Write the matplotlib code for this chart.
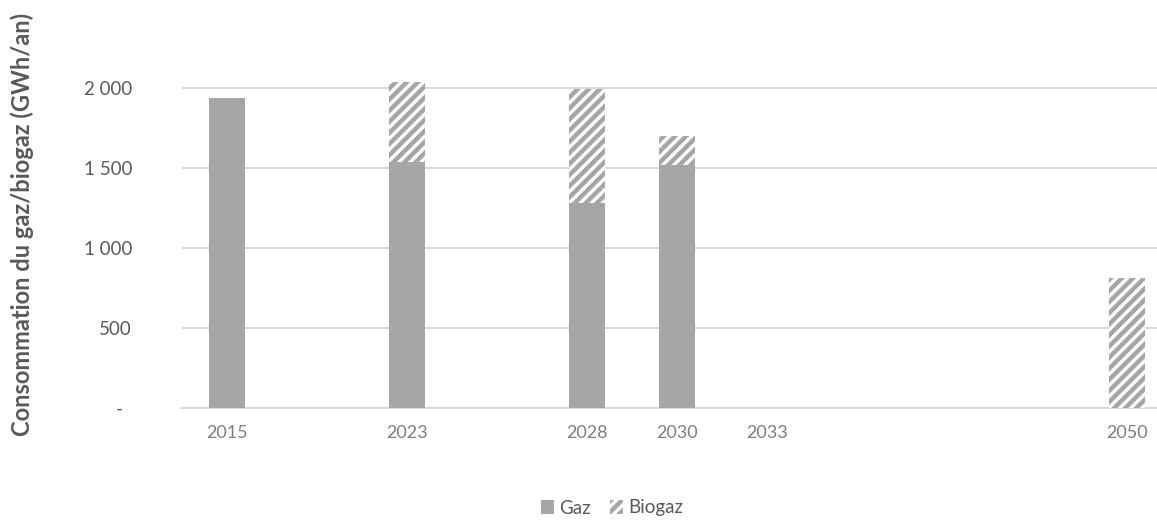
import matplotlib
matplotlib.use("Agg")
import matplotlib.pyplot as plt
from matplotlib.patches import Patch
import numpy as np

# Year slots on the category axis (blank slots keep the spacing)
years = ["2015", "", "2023", "", "2028", "2030", "2033", "", "", "", "2050"]
gaz = [1935, 0, 1540, 0, 1280, 1520, 0, 0, 0, 0, 0]
biogaz = [0, 0, 495, 0, 712, 177, 0, 0, 0, 0, 810]

y_ticks = [0, 500, 1000, 1500, 2000]
y_tick_labels = ["-  ", "500", "1 000", "1 500", "2 000"]

GRAY = "#a6a6a6"
TEXT = "#595959"
GRID = "#d9d9d9"

plt.rcParams["font.family"] = ["Lato", "DejaVu Sans"]
plt.rcParams["hatch.linewidth"] = 3.2

fig = plt.figure(figsize=(11.57, 5.20), dpi=100)
ax = fig.add_axes([182 / 1157, 112 / 520, 975 / 1157, 344 / 520])

x = np.arange(len(years))
width = 0.4
gaz_arr = np.array(gaz, dtype=float)
bio_arr = np.array(biogaz, dtype=float)

ax.bar(x, gaz_arr, width, color=GRAY, linewidth=0, zorder=3)
ax.bar(x, bio_arr, width, bottom=gaz_arr, facecolor="white",
       edgecolor=GRAY, hatch="///", linewidth=0, zorder=3)

ax.set_xlim(-0.5, 10.333)
ax.set_ylim(0, 2150)
ax.set_yticks(y_ticks)
ax.set_yticklabels(y_tick_labels)
ax.set_xticks(x)
ax.set_xticklabels(years)

ax.grid(axis="y", color=GRID, linewidth=1.5, zorder=0)
for side in ["top", "right", "left"]:
    ax.spines[side].set_visible(False)
ax.spines["bottom"].set_color(GRID)
ax.spines["bottom"].set_linewidth(1.5)
ax.spines["bottom"].set_zorder(1)

ax.tick_params(axis="y", length=0, pad=36, labelsize=13.5, labelcolor=TEXT)
ax.tick_params(axis="x", length=0, pad=12, labelsize=13, labelcolor="#7f7f7f")

ax.set_ylabel("Consommation du gaz/biogaz (GWh/an)", fontsize=17,
              fontweight="bold", color=TEXT)
ax.yaxis.set_label_coords(-0.152, 0.535)

handles = [Patch(facecolor=GRAY, edgecolor="none", label="Gaz"),
           Patch(facecolor="white", edgecolor=GRAY, hatch="///", linewidth=0,
                 label="Biogaz")]
fig.legend(handles=handles, loc="center", ncol=2, frameon=False,
           bbox_to_anchor=(612 / 1157, 1 - 508 / 520), fontsize=13.5,
           labelcolor=TEXT, handlelength=0.7, handleheight=0.7,
           handletextpad=0.3, columnspacing=1.0)

fig.savefig("out.png", dpi=100)
